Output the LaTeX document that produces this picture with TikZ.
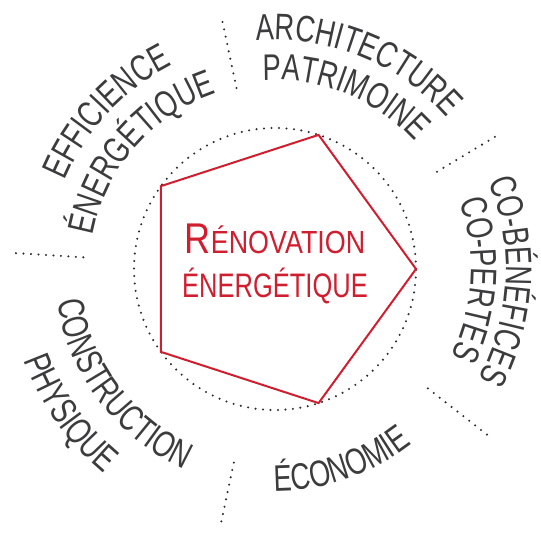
\documentclass[tikz,border=0pt]{standalone}
\usepackage{fontspec}
\setmainfont{Liberation Sans}
\newfontfamily\condfont{Liberation Sans}[FakeStretch=0.735]
\newfontfamily\condA{Liberation Sans}[FakeStretch=0.84]
\newfontfamily\condB{Liberation Sans}[FakeStretch=0.75]
\usetikzlibrary{decorations.text}
\definecolor{lbl}{RGB}{60,60,62}
\definecolor{rouge}{RGB}{208,30,46}
\definecolor{dotc}{RGB}{45,45,48}
\newcommand\lblfont{\condfont\fontsize{37}{40}\selectfont}
\newcommand\arclabel[4]{%
  \path[decorate,decoration={text along path,text align=center,
    text={|\lblfont\color{lbl}|#4}}] (#2:#1) arc[start angle=#2,end angle=#3,radius=#1];}
\begin{document}
\begin{tikzpicture}[x=1pt,y=1pt,
  dots/.style={dotc,line width=2.3pt,line cap=round,dash pattern=on 0pt off 7.5pt},
  penta/.style={rouge,line width=2pt,line join=miter},
  centre/.style={rouge,anchor=base,inner sep=0pt}]
\useasboundingbox (-275,-264) rectangle (266,269);
\coordinate (O) at (0,0);
% dotted ring
\draw[dots] (O) circle[radius=141];
% pentagon
\foreach \i/\a in {1/0,2/72,3/144,4/216,5/288} \coordinate (p\i) at (\a:141);
\draw[penta] (p1) -- (p2) -- (p3) -- (p4) -- (p5) -- cycle;
% separators
\foreach \n/\a/\r/\R in {1/102/185/257,2/31/189/262,3/-38/194/271,4/-102/198/262,5/176.5/192/265}{
  \coordinate (s\n a) at (\a:\r);
  \coordinate (s\n b) at (\a:\R);
  \draw[dots] (s\n a) -- (s\n b);
}
% centre title
\node[centre] (t1) at (0,16) {\condA{\fontsize{43}{45}\selectfont R}\fontsize{32}{34}\selectfont ÉNOVATION};
\node[centre] (t2) at (0,-28) {\condB\fontsize{34}{36}\selectfont ÉNERGÉTIQUE};
% curved labels (tops outward: clockwise arcs)
\arclabel{229}{128}{8}{ARCHITECTURE}
\arclabel{189}{128}{8}{PATRIMOINE}
\arclabel{228}{197}{77}{EFFICIENCE}
\arclabel{185}{199}{79}{ÉNERGÉTIQUE}
\arclabel{231}{57}{-63}{CO-BÉNÉFICES}
\arclabel{196}{57}{-63}{CO-PERTES}
% curved labels (tops inward: counter-clockwise arcs)
\arclabel{222}{-131}{-11}{ÉCONOMIE}
\arclabel{220}{157}{277}{CONSTRUCTION}
\arclabel{267}{155}{275}{PHYSIQUE}
\end{tikzpicture}
\end{document}
